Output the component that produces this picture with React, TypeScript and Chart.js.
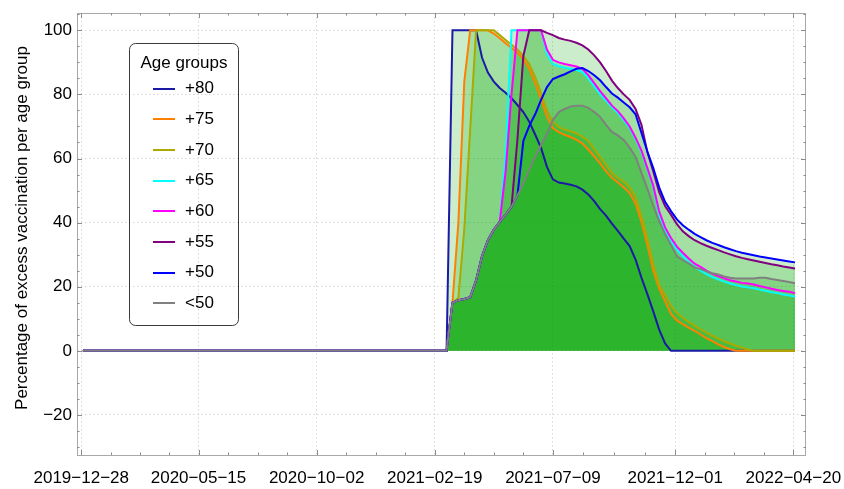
import React, { useEffect, useRef } from 'react';
import { Chart, registerables } from 'chart.js';

Chart.register(...registerables);

// ---------- data ----------
const dates = [
  '2019-12-30',
  '2021-02-26', '2021-03-05', '2021-03-12', '2021-03-19', '2021-03-26',
  '2021-04-02', '2021-04-09', '2021-04-16', '2021-04-23', '2021-04-30',
  '2021-05-07', '2021-05-14', '2021-05-21', '2021-05-28',
  '2021-06-04', '2021-06-11', '2021-06-18', '2021-06-25',
  '2021-07-02', '2021-07-09', '2021-07-16', '2021-07-23', '2021-07-30',
  '2021-08-06', '2021-08-13', '2021-08-20', '2021-08-27',
  '2021-09-03', '2021-09-10', '2021-09-17', '2021-09-24',
  '2021-10-01', '2021-10-08', '2021-10-15', '2021-10-22', '2021-10-29',
  '2021-11-05', '2021-11-12', '2021-11-19', '2021-11-26',
  '2021-12-03', '2021-12-10', '2021-12-17', '2021-12-24', '2021-12-31',
  '2022-01-07', '2022-01-14', '2022-01-21', '2022-01-28',
  '2022-02-04', '2022-02-11', '2022-02-18', '2022-02-25',
  '2022-03-04', '2022-03-11', '2022-03-18', '2022-03-25',
  '2022-04-01', '2022-04-08', '2022-04-15', '2022-04-22',
];

const age80 = [0,
  0, 0, 100, 100, 100, 100, 100, 91.5, 86.8, 84, 82, 80.5, 78.8, 76.7, 74.5, 71.5, 67.5, 63.3, 57.4, 53.5,
  52.5, 52.2, 51.8, 51.3, 50.3, 48.8, 46.7, 44.2, 42.2, 39.7, 37.4, 35, 32.7, 28.5, 22.8, 17.7, 12.3, 6.6, 2.3, 0,
  0, 0, 0, 0, 0, 0, 0, 0, 0, 0, 0, 0, 0, 0, 0, 0, 0, 0, 0, 0, 0];

const age75 = [0,
  0, 0, 15, 40, 84, 100, 100, 100, 100, 99, 97.5, 96, 94.5, 93, 91, 88, 83.5, 78.5, 73, 69.5,
  68.2, 67.4, 66.7, 65.8, 64.7, 62.8, 60.7, 58.5, 56, 54, 52.5, 51, 49.2, 46, 40.3, 33, 25, 19.5, 15.5, 11.5,
  9.5, 8.3, 7.2, 6.2, 5.1, 4, 3, 2, 1.2, 0.5, 0, 0, 0, 0, 0, 0, 0, 0, 0, 0, 0];

const age70 = [0,
  0, 0, 15, 16.5, 38, 69, 100, 100, 100, 100, 98.5, 97, 95.5, 94, 92, 89.5, 85.5, 80.5, 75, 71.5,
  69.8, 69, 68.5, 67.8, 66.8, 65.5, 63, 60.5, 58, 55.5, 54, 52.8, 51, 48, 42, 35, 27, 20.5, 17.5, 14,
  11.8, 10.3, 9, 7.8, 6.7, 5.7, 4.7, 3.8, 3, 2.3, 1.6, 1, 0.4, 0, 0, 0, 0, 0, 0, 0, 0];

const age65 = [0,
  0, 0, 15, 15.8, 16.2, 16.7, 22, 29.5, 34.5, 37.8, 40.2, 62, 100, 100, 100, 100, 100, 100, 92.5, 89.5,
  88.8, 88.3, 88, 87.6, 87, 85, 82.5, 80, 78, 76, 74.2, 72, 69.5, 66, 62, 56.5, 51, 42.5, 37.5, 34.2,
  31.5, 29.5, 27.7, 26.2, 25, 23.9, 23, 22.3, 21.6, 21, 20.5, 20.1, 19.8, 19.5, 19.1, 18.7, 18.3, 18, 17.6, 17.3, 16.9];

const age60 = [0,
  0, 0, 15, 15.8, 16.2, 16.7, 22, 29.5, 34.5, 37.8, 40.2, 56, 80, 100, 100, 100, 100, 100, 94, 90.8,
  90, 89.5, 89.1, 88.7, 88, 86, 83.5, 81, 78.8, 76.5, 74.8, 72.5, 70, 66.5, 62.5, 57, 51.5, 43.5, 38.5, 35.2,
  32.5, 30.6, 28.8, 27.2, 26.2, 25, 24, 23.3, 22.6, 22, 21.6, 21.2, 21, 20.7, 20.2, 19.8, 19.4, 19, 18.7, 18.4, 18];

const age55 = [0,
  0, 0, 15, 15.8, 16.2, 16.7, 22, 29.5, 34.5, 37.8, 40.2, 42.5, 45, 66, 92, 100, 100, 100, 99.2, 98.5,
  97.6, 97.1, 96.7, 96.1, 95.3, 94, 92.2, 90, 87.3, 84.3, 82, 80, 78.3, 75.5, 70.5, 62, 56, 49.5, 45.2, 42.5,
  39.5, 37.3, 35.8, 34.5, 33.6, 32.8, 32.1, 31.4, 30.7, 30.1, 29.5, 29, 28.6, 28.2, 27.8, 27.4, 27, 26.7, 26.3, 26, 25.7];

const age50 = [0,
  0, 0, 15, 15.8, 16.2, 16.7, 22, 29.5, 34.5, 37.8, 40.2, 42.5, 45, 48.5, 65.5, 70.2, 73.8, 78.3, 82.3, 84.8,
  85.6, 86.3, 87.2, 88, 88.2, 87.3, 86, 84.4, 82.3, 80.3, 79, 77.5, 76, 73.8, 68, 62.2, 57, 51, 46.5, 43.6,
  41, 39.2, 37.8, 36.5, 35.5, 34.5, 33.7, 33, 32.3, 31.7, 31.1, 30.6, 30.2, 29.8, 29.4, 29.1, 28.8, 28.5, 28.2, 27.9, 27.6];

const ageUnder50 = [0,
  0, 0, 15, 15.8, 16.2, 16.7, 22, 29.5, 34.5, 37.8, 40.2, 42.5, 45, 48.5, 52.2, 56.6, 60.5, 64.2, 67.8, 72,
  74.5, 75.5, 76.2, 76.5, 76.5, 75.8, 74.5, 73, 70.5, 68.3, 67.2, 65.8, 63.4, 60.5, 55.5, 50.5, 45.3, 40.5, 36.5, 33,
  29.5, 28.3, 27.3, 26, 25.5, 24.8, 24.2, 23.8, 23.2, 22.8, 22.6, 22.6, 22.6, 22.6, 22.8, 22.8, 22.4, 22.1, 21.8, 21.5, 21.1];

const seriesLabels = ['+80', '+75', '+70', '+65', '+60', '+55', '+50', '<50'];
const seriesColors = ['#1a1aa6', '#ff8000', '#aaaa00', '#00ffff', '#ff00ff', '#800080', '#0000ff', '#808080'];

const xTickDates = ['2019-12-28', '2020-05-15', '2020-10-02', '2021-02-19', '2021-07-09', '2021-12-01', '2022-04-20'];
const yTickValues = [-20, 0, 20, 40, 60, 80, 100];
const xRange = ['2019-12-23', '2022-05-05'];
const yRange = [-32.5, 105.4];

const legendTitle = 'Age groups';
const yAxisTitle = 'Percentage of excess vaccination per age group';

const FONT = "'Liberation Sans', Arial, Helvetica, sans-serif";

const dayOf = (s: string) =>
  Date.UTC(+s.slice(0, 4), +s.slice(5, 7) - 1, +s.slice(8, 10)) / 86400000;

const toMinus = (s: string) => s.replace(/-/g, '\u2212');

const framePlugin = {
  id: 'mmaFrame',
  afterDraw(chart: any) {
    const { ctx, chartArea } = chart;
    const { left, right, top, bottom } = chartArea;
    const xs = chart.scales.x;
    const ys = chart.scales.y;
    ctx.save();
    // frame
    ctx.strokeStyle = '#a8a8a8';
    ctx.lineWidth = 1;
    ctx.strokeRect(Math.round(left) + 0.5, Math.round(top) + 0.5, Math.round(right - left) - 1, Math.round(bottom - top));
    // y ticks (major + minor), inward on left and right
    ctx.strokeStyle = '#8c8c8c';
    ctx.beginPath();
    for (let v = -30; v <= 105; v += 5) {
      const py = Math.round(ys.getPixelForValue(v)) + 0.5;
      if (py < top || py > bottom) continue;
      const len = v % 20 === 0 ? 5 : 2.5;
      ctx.moveTo(left, py); ctx.lineTo(left + len, py);
      ctx.moveTo(right, py); ctx.lineTo(right - len, py);
    }
    // x ticks
    const majors = xTickDates.map(dayOf);
    const pushX = (d: number, len: number) => {
      const px = Math.round(xs.getPixelForValue(d)) + 0.5;
      if (px < left || px > right) return;
      ctx.moveTo(px, bottom); ctx.lineTo(px, bottom - len);
      ctx.moveTo(px, top); ctx.lineTo(px, top + len);
    };
    for (let i = 0; i < majors.length; i++) {
      pushX(majors[i], 5);
      if (i < majors.length - 1) {
        const step = (majors[i + 1] - majors[i]) / 4;
        for (let j = 1; j < 4; j++) pushX(majors[i] + j * step, 2.5);
      }
    }
    const stepL = (majors[1] - majors[0]) / 4;
    for (let j = 1; j < 4; j++) pushX(majors[0] - j * stepL, 2.5);
    const n = majors.length;
    const stepR = (majors[n - 1] - majors[n - 2]) / 4;
    for (let j = 1; j < 4; j++) pushX(majors[n - 1] + j * stepR, 2.5);
    ctx.stroke();

    // y axis title
    ctx.fillStyle = '#000';
    ctx.font = `17px ${FONT}`;
    ctx.textAlign = 'center';
    ctx.textBaseline = 'middle';
    ctx.save();
    ctx.translate(22.5, 228);
    ctx.rotate(-Math.PI / 2);
    ctx.fillText(yAxisTitle, 0, 0);
    ctx.restore();

    // legend
    const bx = 129.5, by = 43.5, bw = 109, bh = 282;
    ctx.strokeStyle = '#3a3a3a';
    ctx.lineWidth = 1;
    ctx.beginPath();
    (ctx as any).roundRect(bx, by, bw, bh, 6);
    ctx.stroke();
    ctx.fillStyle = '#000';
    ctx.textAlign = 'center';
    ctx.fillText(legendTitle, bx + bw / 2, 63);
    ctx.textAlign = 'left';
    seriesLabels.forEach((lab, i) => {
      const cy = 88.5 + i * 30.7;
      ctx.strokeStyle = seriesColors[i];
      ctx.lineWidth = 2;
      ctx.beginPath();
      ctx.moveTo(153, Math.round(cy));
      ctx.lineTo(175, Math.round(cy));
      ctx.stroke();
      ctx.fillStyle = '#000';
      ctx.fillText(lab, 185, cy);
    });
    ctx.restore();
  },
};

export default function App() {
  const ref = useRef<HTMLCanvasElement>(null);

  useEffect(() => {
    const canvas = ref.current;
    if (!canvas) return;
    const xs = dates.map(dayOf);
    const seriesValues = [age80, age75, age70, age65, age60, age55, age50, ageUnder50];
    const datasets = seriesValues.map((vals, i) => ({
      label: seriesLabels[i],
      data: vals.map((v, j) => ({ x: xs[j], y: v })),
      borderColor: seriesColors[i],
      backgroundColor: 'rgba(0,165,0,0.2)',
      borderWidth: 2,
      pointRadius: 0,
      pointHoverRadius: 0,
      fill: 'origin',
      tension: 0,
      order: seriesValues.length - 1 - i,
    }));
    const xTickDays = xTickDates.map(dayOf);

    const chart = new Chart(canvas, {
      type: 'line',
      data: { datasets } as any,
      options: {
        animation: false,
        responsive: false,
        devicePixelRatio: 1,
        events: [],
        layout: { padding: { left: 0, right: 38, top: 13, bottom: 0 } },
        plugins: {
          legend: { display: false },
          tooltip: { enabled: false },
          filler: { drawTime: 'beforeDatasetsDraw' },
        } as any,
        scales: {
          x: {
            type: 'linear',
            min: dayOf(xRange[0]),
            max: dayOf(xRange[1]),
            afterBuildTicks: (s: any) => {
              s.ticks = xTickDays.map((v) => ({ value: v }));
            },
            afterFit: (s: any) => {
              s.height = 34;
              s.paddingLeft = 0;
              s.paddingRight = 0;
            },
            ticks: {
              autoSkip: false,
              maxRotation: 0,
              minRotation: 0,
              padding: 13,
              color: '#000',
              font: { size: 17, family: FONT },
              callback: (v: any) => {
                const i = xTickDays.indexOf(Number(v));
                return i >= 0 ? toMinus(xTickDates[i]) : '';
              },
            },
            grid: { color: '#d6d6d6', drawTicks: false, lineWidth: 1 },
            border: { display: false, dash: [1.5, 2.5] },
          },
          y: {
            type: 'linear',
            min: yRange[0],
            max: yRange[1],
            afterBuildTicks: (s: any) => {
              s.ticks = yTickValues.map((v) => ({ value: v }));
            },
            afterFit: (s: any) => {
              s.width = 77;
              s.paddingTop = 0;
              s.paddingBottom = 0;
            },
            ticks: {
              padding: 5,
              color: '#000',
              font: { size: 17, family: FONT },
              callback: (v: any) => toMinus(String(v)),
            },
            grid: { color: '#d6d6d6', drawTicks: false, lineWidth: 1 },
            border: { display: false, dash: [1.5, 2.5] },
          },
        },
      } as any,
      plugins: [framePlugin],
    });
    return () => chart.destroy();
  }, []);

  return (
    <div style={{ position: 'absolute', left: 0, top: 0, width: 844, height: 489, background: '#fff' }}>
      <canvas ref={ref} width={844} height={489} style={{ display: 'block' }} />
    </div>
  );
}
